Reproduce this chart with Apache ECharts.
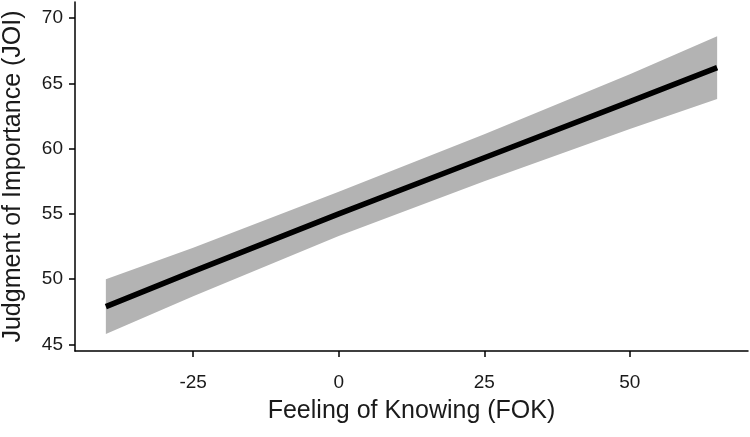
<!DOCTYPE html>
<html>
<head>
<meta charset="utf-8">
<script src="https://cdn.jsdelivr.net/npm/echarts@6/dist/echarts.min.js"></script>
<style>
html,body{margin:0;padding:0;background:#fff;}
#main{width:750px;height:437px;}
</style>
</head>
<body>
<div id="main"></div>
<script>
// FOK values where the fit was read
var fok = [-40, -25, 0, 25, 50, 65];
// fitted JOI line
var fit = [47.9, 50.6, 55.0, 59.3, 63.6, 66.2];
// confidence band
var upper = [50.0, 52.4, 56.7, 61.1, 65.7, 68.6];
var lower = [45.8, 48.7, 53.3, 57.5, 61.5, 63.8];
// tick labels
var xTicks = [-25, 0, 25, 50];
var yTicks = [45, 50, 55, 60, 65, 70];

var myChart = echarts.init(document.getElementById('main'));

var lineData = fok.map(function(x, i){ return [x, fit[i]]; });

var option = {
    animation: false,
    backgroundColor: '#fff',
    grid: { left: 75, right: 2, top: 2, bottom: 86, containLabel: false, outerBoundsMode: 'none' },
    xAxis: {
        type: 'value',
        min: -45.3,
        max: 70.3,
        name: 'Feeling of Knowing (FOK)',
        nameLocation: 'middle',
        nameGap: 48,
        nameTextStyle: { fontFamily: 'Liberation Sans', fontSize: 25, color: '#1a1a1a' },
        axisLine: { onZero: false, lineStyle: { color: '#000', width: 1.5 } },
        axisTick: { show: true, customValues: xTicks, length: 6, lineStyle: { color: '#000', width: 1.5 } },
        axisLabel: { customValues: xTicks, margin: 22, fontFamily: 'Liberation Sans', fontSize: 19, color: '#1a1a1a' },
        splitLine: { show: false }
    },
    yAxis: {
        type: 'value',
        min: 44.5,
        max: 71.23,
        name: 'Judgment of Importance (JOI)',
        nameLocation: 'middle',
        nameGap: 49,
        nameTextStyle: { fontFamily: 'Liberation Sans', fontSize: 25, color: '#1a1a1a' },
        axisLine: { show: true, onZero: false, lineStyle: { color: '#000', width: 1.5 } },
        axisTick: { show: true, customValues: yTicks, length: 6, lineStyle: { color: '#000', width: 1.5 } },
        axisLabel: { customValues: yTicks, margin: 12, fontFamily: 'Liberation Sans', fontSize: 19, color: '#1a1a1a' },
        splitLine: { show: false }
    },
    series: [{
        type: 'custom',
        data: [0],
        silent: true,
        renderItem: function(params, api){
            var pts = [];
            fok.forEach(function(x, i){ pts.push(api.coord([x, upper[i]])); });
            for (var i = fok.length - 1; i >= 0; i--) {
                pts.push(api.coord([fok[i], lower[i]]));
            }
            return {
                type: 'polygon',
                shape: { points: pts },
                style: { fill: '#b3b3b3', stroke: null }
            };
        },
        z: 1
    }, {
        type: 'line',
        data: lineData,
        symbol: 'none',
        lineStyle: { color: '#000', width: 5.5 },
        z: 2
    }]
};

myChart.setOption(option);
</script>
</body>
</html>
